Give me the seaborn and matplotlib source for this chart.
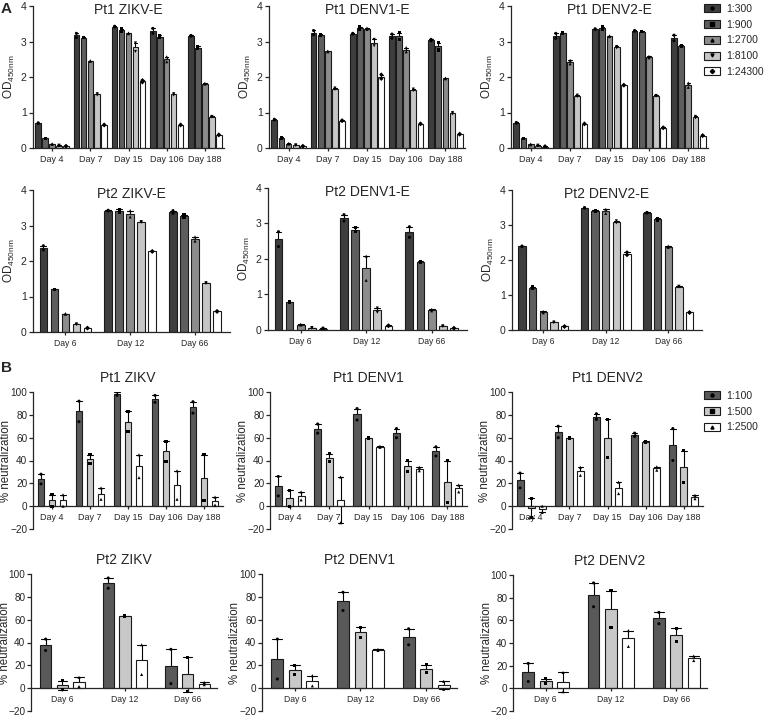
import numpy as np
import pandas as pd
import matplotlib
matplotlib.use("Agg")
import matplotlib.pyplot as plt
import seaborn as sns
from matplotlib.patches import Patch
from matplotlib.lines import Line2D
from matplotlib.legend_handler import HandlerTuple

sns.set_style("ticks")
plt.rcParams['font.family'] = ['Liberation Sans', 'DejaVu Sans']
plt.rcParams['mathtext.default'] = 'regular'

# =========================
# DATA (two replicates per bar, rows = dilution, cols = day)
# =========================

days_pt1 = ["Day 4", "Day 7", "Day 15", "Day 106", "Day 188"]
days_pt2 = ["Day 6", "Day 12", "Day 66"]
elisa_dilutions = ["1:300", "1:900", "1:2700", "1:8100", "1:24300"]
neut_dilutions = ["1:100", "1:500", "1:2500"]

# A: ELISA OD450
pt1_zikv_e_a = [[0.71, 3.23, 3.43, 3.37, 3.17], [0.28, 3.12, 3.36, 3.18, 2.86],
                [0.12, 2.46, 3.24, 2.57, 1.82], [0.08, 1.53, 2.96, 1.53, 0.89],
                [0.06, 0.66, 1.91, 0.66, 0.38]]
pt1_zikv_e_b = [[0.69, 3.11, 3.41, 3.23, 3.15], [0.26, 3.10, 3.28, 3.10, 2.80],
                [0.10, 2.44, 3.22, 2.43, 1.80], [0.06, 1.49, 2.72, 1.49, 0.87],
                [0.04, 0.64, 1.85, 0.64, 0.36]]

pt1_denv1_e_a = [[0.81, 3.31, 3.23, 3.21, 3.06], [0.30, 3.21, 3.42, 3.25, 2.96],
                 [0.13, 2.73, 3.38, 2.83, 1.97], [0.09, 1.69, 3.06, 1.66, 1.00],
                 [0.06, 0.78, 2.07, 0.69, 0.40]]
pt1_denv1_e_b = [[0.79, 3.19, 3.21, 3.09, 3.02], [0.28, 3.17, 3.34, 3.05, 2.76],
                 [0.11, 2.71, 3.34, 2.71, 1.95], [0.07, 1.65, 2.88, 1.62, 0.96],
                 [0.04, 0.76, 1.95, 0.67, 0.38]]

pt1_denv2_e_a = [[0.72, 3.23, 3.36, 3.31, 3.18], [0.28, 3.24, 3.42, 3.29, 2.89],
                 [0.11, 2.47, 3.16, 2.58, 1.83], [0.08, 1.49, 2.86, 1.48, 0.89],
                 [0.05, 0.69, 1.78, 0.58, 0.36]]
pt1_denv2_e_b = [[0.70, 3.09, 3.34, 3.29, 3.02], [0.26, 3.22, 3.34, 3.27, 2.87],
                 [0.09, 2.37, 3.14, 2.54, 1.71], [0.06, 1.45, 2.82, 1.46, 0.85],
                 [0.03, 0.67, 1.76, 0.56, 0.34]]

pt2_zikv_e_a = [[2.43, 3.43, 3.42], [1.21, 3.46, 3.30], [0.52, 3.42, 2.68],
                [0.23, 3.11, 1.39], [0.12, 2.28, 0.59]]
pt2_zikv_e_b = [[2.31, 3.41, 3.34], [1.19, 3.38, 3.24], [0.50, 3.24, 2.56],
                [0.21, 3.09, 1.37], [0.10, 2.26, 0.57]]

pt2_denv1_e_a = [[2.77, 3.25, 2.91], [0.79, 2.89, 1.93], [0.16, 2.08, 0.58],
                 [0.07, 0.62, 0.12], [0.05, 0.13, 0.06]]
pt2_denv1_e_b = [[2.35, 3.07, 2.61], [0.77, 2.77, 1.89], [0.14, 1.40, 0.54],
                 [0.05, 0.50, 0.10], [0.03, 0.11, 0.04]]

pt2_denv2_e_a = [[2.40, 3.50, 3.36], [1.24, 3.42, 3.19], [0.53, 3.45, 2.40],
                 [0.23, 3.12, 1.25], [0.11, 2.22, 0.51]]
pt2_denv2_e_b = [[2.38, 3.48, 3.34], [1.18, 3.40, 3.13], [0.49, 3.33, 2.36],
                 [0.21, 3.06, 1.23], [0.09, 2.14, 0.49]]

# B: % neutralization
pt1_zikv_a = [[28, 92, 100, 97, 91.5], [10, 45, 83, 57, 45], [10, 16, 45, 31, 8]]
pt1_zikv_b = [[19.5, 74, 97, 91, 81.5], [0, 37, 65, 39, 5], [0, 6, 25, 6, 1]]

pt1_denv1_a = [[26, 72, 85.5, 68, 52], [14, 46, 60, 40, 40], [12.5, 25.5, 52.5, 34, 18.5]]
pt1_denv1_b = [[9, 64, 75.5, 60, 44], [0, 39, 59, 30, 3], [5.5, -14.5, 51.5, 31, 12.5]]

pt1_denv2_a = [[29, 70, 81, 64, 68], [7, 60, 76, 57, 48.5], [0, 34, 21, 34.5, 9.5]]
pt1_denv2_b = [[16, 60, 76, 61, 40], [-10, 59, 43, 56, 20.5], [-5.5, 27, 11, 31.5, 6.5]]

pt2_zikv_a = [[43, 96.5, 34], [6.5, 63.5, 27], [9.5, 38, 5]]
pt2_zikv_b = [[33, 87.5, 4], [-1.5, 62.5, -3], [1.5, 12, 3]]

pt2_denv1_a = [[43, 84, 52], [20, 53.5, 20.5], [11, 34, 6]]
pt2_denv1_b = [[8, 68, 38], [12, 44.5, 13.5], [2, 33, -1]]

pt2_denv2_a = [[22, 93, 67], [8.5, 86, 53], [14, 51, 28.5]]
pt2_denv2_b = [[6, 72, 57], [4.5, 54, 41], [-3, 37, 24.5]]

# =========================
# STYLE
# =========================

elisa_colors = ["#3e3e3e", "#5e5e5e", "#8c8c8c", "#c6c6c6", "#ffffff"]
neut_colors = ["#595959", "#c8c8c8", "#ffffff"]
elisa_markers = ["o", "s", "^", "v", "D"]
neut_markers = ["o", "s", "^"]

W, H = 766, 719
fig = plt.figure(figsize=(W / 100, H / 100), dpi=100)


def long_table(days, dilutions, rep_a, rep_b):
    rows = []
    for i, dil in enumerate(dilutions):
        for j, day in enumerate(days):
            rows.append({"day": day, "dilution": dil, "value": rep_a[i][j]})
            rows.append({"day": day, "dilution": dil, "value": rep_b[i][j]})
    return pd.DataFrame(rows)


def draw_panel(box, title, days, dilutions, colors, markers, rep_a, rep_b,
               neut, width, gap, xmax, title_size=10):
    left, top, right, bottom = box
    ax = fig.add_axes([left / W, 1 - bottom / H, (right - left) / W, (bottom - top) / H])
    df = long_table(days, dilutions, rep_a, rep_b)

    sns.barplot(data=df, x="day", y="value", hue="dilution", order=days,
                hue_order=dilutions, palette=colors, errorbar="se", capsize=0.45,
                err_kws={"color": "black", "linewidth": 0.8}, edgecolor="#1a1a1a",
                linewidth=0.8, width=width, gap=gap, legend=False, ax=ax)
    # keep only the upper half of the error bars visible
    for line in ax.lines:
        line.set_zorder(0.5)

    n_before = len(ax.collections)
    for dil, m in zip(dilutions, markers):
        sns.stripplot(data=df[df["dilution"] == dil], x="day", y="value",
                      hue="dilution", order=days, hue_order=dilutions,
                      palette=["black"] * len(dilutions), dodge=True, jitter=False,
                      marker=m, size=2.2, legend=False, ax=ax)
    # stripplot dodges with width 0.8, rescale to the bar width
    for coll in ax.collections[n_before:]:
        offs = coll.get_offsets()
        if len(offs):
            centers = np.round(offs[:, 0])
            offs[:, 0] = centers + (offs[:, 0] - centers) * width / 0.8
            coll.set_offsets(offs)
        coll.set_zorder(3)

    ax.set_xlim(-0.5, xmax)
    sns.despine(ax=ax)
    for s in ["left", "bottom"]:
        ax.spines[s].set_linewidth(0.9)
    ax.set_xlabel("")
    axw = right - left
    if neut:
        ax.set_ylim(-20, 100)
        ax.set_yticks([-20, 0, 20, 40, 60, 80, 100])
        ax.spines["bottom"].set_position(("data", 0))
        ax.set_ylabel("% neutralization", fontsize=8.3)
        ax.yaxis.set_label_coords(-20.5 / axw, 0.5)
        ax.annotate(title, xy=(0.5, 1), xycoords="axes fraction", xytext=(0, 5),
                    textcoords="offset points", ha="center", va="bottom",
                    fontsize=title_size)
        ax.tick_params(axis="y", length=3, width=0.9, labelsize=7.2, pad=1)
    else:
        ax.set_ylim(0, 4)
        ax.set_yticks([0, 1, 2, 3, 4])
        ax.set_ylabel("OD$_{450nm}$", fontsize=8.5)
        ax.yaxis.set_label_coords(-16 / axw, 0.5)
        ax.annotate(title, xy=(0.5, 1), xycoords="axes fraction", xytext=(0, 2),
                    textcoords="offset points", ha="center", va="top",
                    fontsize=title_size)
        ax.tick_params(axis="y", length=3, width=0.9, labelsize=7.5, pad=1.5)
    xfs = 6.5 if len(days) == 5 else 6.2
    ax.tick_params(axis="x", length=2.5, width=0.9, labelsize=xfs, pad=2.5)
    return ax


# =========================
# PANEL A
# =========================

draw_panel((33, 6, 224, 148), "Pt1 ZIKV-E", days_pt1, elisa_dilutions, elisa_colors,
           elisa_markers, pt1_zikv_e_a, pt1_zikv_e_b, False, 0.91, 0.2, 4.5)
draw_panel((269, 6, 465, 148), "Pt1 DENV1-E", days_pt1, elisa_dilutions, elisa_colors,
           elisa_markers, pt1_denv1_e_a, pt1_denv1_e_b, False, 0.91, 0.2, 4.5)
draw_panel((511, 6, 708, 148), "Pt1 DENV2-E", days_pt1, elisa_dilutions, elisa_colors,
           elisa_markers, pt1_denv2_e_a, pt1_denv2_e_b, False, 0.91, 0.2, 4.5)

draw_panel((33, 190, 230, 332), "Pt2 ZIKV-E", days_pt2, elisa_dilutions, elisa_colors,
           elisa_markers, pt2_zikv_e_a, pt2_zikv_e_b, False, 0.85, 0.3, 2.54)
draw_panel((268, 188, 467, 330), "Pt2 DENV1-E", days_pt2, elisa_dilutions, elisa_colors,
           elisa_markers, pt2_denv1_e_a, pt2_denv1_e_b, False, 0.85, 0.3, 2.54)
draw_panel((512, 190, 702, 330), "Pt2 DENV2-E", days_pt2, elisa_dilutions, elisa_colors,
           elisa_markers, pt2_denv2_e_a, pt2_denv2_e_b, False, 0.85, 0.3, 2.54)

# =========================
# PANEL B
# =========================

draw_panel((33, 392, 223, 529), "Pt1 ZIKV", days_pt1, neut_dilutions, neut_colors,
           neut_markers, pt1_zikv_a, pt1_zikv_b, True, 0.87, 0.37, 4.5)
draw_panel((270, 392, 467, 529), "Pt1 DENV1", days_pt1, neut_dilutions, neut_colors,
           neut_markers, pt1_denv1_a, pt1_denv1_b, True, 0.87, 0.37, 4.5)
draw_panel((512, 392, 703, 529), "Pt1 DENV2", days_pt1, neut_dilutions, neut_colors,
           neut_markers, pt1_denv2_a, pt1_denv2_b, True, 0.87, 0.37, 4.5)

draw_panel((31, 574, 217, 711), "Pt2 ZIKV", days_pt2, neut_dilutions, neut_colors,
           neut_markers, pt2_zikv_a, pt2_zikv_b, True, 0.80, 0.32, 2.47)
draw_panel((262, 574, 457, 711), "Pt2 DENV1", days_pt2, neut_dilutions, neut_colors,
           neut_markers, pt2_denv1_a, pt2_denv1_b, True, 0.80, 0.32, 2.47)
draw_panel((513, 575, 707, 711), "Pt2 DENV2", days_pt2, neut_dilutions, neut_colors,
           neut_markers, pt2_denv2_a, pt2_denv2_b, True, 0.80, 0.32, 2.47)

# =========================
# LEGENDS AND LETTERS
# =========================


def legend_handles(colors, markers):
    return [(Patch(facecolor=c, edgecolor="#1a1a1a", linewidth=0.8),
             Line2D([], [], marker=m, color="black", markersize=2.2, linestyle=""))
            for c, m in zip(colors, markers)]


legend_kws = dict(loc="upper left", frameon=False, fontsize=7.5, handlelength=1.5,
                  handleheight=0.8, handletextpad=0.6, labelspacing=0.55,
                  borderpad=0, borderaxespad=0,
                  handler_map={tuple: HandlerTuple(ndivide=1)})
fig.legend(legend_handles(elisa_colors, elisa_markers), elisa_dilutions,
           bbox_to_anchor=(704 / W, 1 - 4 / H), **legend_kws)
fig.legend(legend_handles(neut_colors, neut_markers), neut_dilutions,
           bbox_to_anchor=(704 / W, 1 - 391 / H), **legend_kws)

fig.text(1 / W, 1 - 2 / H, "A", fontsize=11, fontweight="bold", va="top")
fig.text(1 / W, 1 - 361 / H, "B", fontsize=11, fontweight="bold", va="top")

fig.savefig("out.png", dpi=100)
